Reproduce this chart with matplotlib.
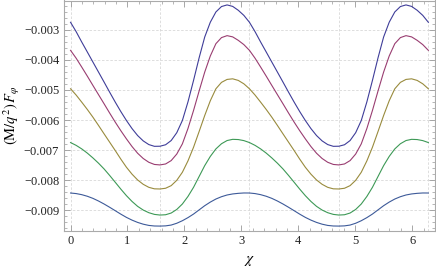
import numpy as np
import matplotlib
matplotlib.use('Agg')
import matplotlib.pyplot as plt
from matplotlib.colors import hsv_to_rgb
from matplotlib.ticker import MultipleLocator

# values, chi = k*pi/32, k = 0..64  (units of 1e-3)
chi = np.arange(65) * np.pi / 32

c1 = [-2.750, -3.061, -3.406, -3.738, -4.072, -4.405, -4.739, -5.076, -5.406, -5.722, -6.017,
      -6.286, -6.517, -6.695, -6.817, -6.875, -6.872, -6.823, -6.683, -6.422, -6.017, -5.399,
      -4.683, -3.930, -3.239, -2.747, -2.406, -2.226, -2.172, -2.221, -2.350, -2.520,
      -2.750, -3.061, -3.406, -3.738, -4.072, -4.405, -4.739, -5.076, -5.406, -5.722, -6.017,
      -6.286, -6.517, -6.695, -6.817, -6.875, -6.872, -6.823, -6.683, -6.422, -6.017, -5.399,
      -4.683, -3.930, -3.239, -2.747, -2.406, -2.226, -2.172, -2.221, -2.350, -2.520, -2.750]
c2 = [-3.683, -3.944, -4.239, -4.541, -4.850, -5.156, -5.461, -5.770, -6.072, -6.358, -6.628,
      -6.883, -7.106, -7.280, -7.406, -7.478, -7.494, -7.462, -7.350, -7.132, -6.794, -6.284,
      -5.683, -5.034, -4.406, -3.870, -3.461, -3.259, -3.194, -3.235, -3.350, -3.492,
      -3.683, -3.944, -4.239, -4.541, -4.850, -5.156, -5.461, -5.770, -6.072, -6.358, -6.628,
      -6.883, -7.106, -7.280, -7.406, -7.478, -7.494, -7.462, -7.350, -7.132, -6.794, -6.284,
      -5.683, -5.034, -4.406, -3.870, -3.461, -3.259, -3.194, -3.235, -3.350, -3.492, -3.683]
c3 = [-4.961, -5.170, -5.406, -5.649, -5.906, -6.180, -6.461, -6.739, -7.017, -7.303, -7.572,
      -7.802, -7.994, -8.139, -8.239, -8.289, -8.294, -8.270, -8.183, -8.006, -7.739, -7.361,
      -6.906, -6.382, -5.850, -5.359, -4.961, -4.748, -4.650, -4.630, -4.683, -4.796,
      -4.961, -5.170, -5.406, -5.649, -5.906, -6.180, -6.461, -6.739, -7.017, -7.303, -7.572,
      -7.802, -7.994, -8.139, -8.239, -8.289, -8.294, -8.270, -8.183, -8.006, -7.739, -7.361,
      -6.906, -6.382, -5.850, -5.359, -4.961, -4.748, -4.650, -4.630, -4.683, -4.796, -4.961]
c4 = [-6.750, -6.843, -6.961, -7.101, -7.261, -7.436, -7.628, -7.845, -8.072, -8.300, -8.517,
      -8.709, -8.872, -8.995, -9.083, -9.139, -9.161, -9.151, -9.094, -8.975, -8.794, -8.543,
      -8.239, -7.878, -7.517, -7.211, -6.961, -6.789, -6.683, -6.643, -6.650, -6.685,
      -6.750, -6.843, -6.961, -7.101, -7.261, -7.436, -7.628, -7.845, -8.072, -8.300, -8.517,
      -8.709, -8.872, -8.995, -9.083, -9.139, -9.161, -9.151, -9.094, -8.975, -8.794, -8.543,
      -8.239, -7.878, -7.517, -7.211, -6.961, -6.789, -6.683, -6.643, -6.650, -6.685, -6.750]
c5 = [-8.428, -8.447, -8.483, -8.536, -8.606, -8.694, -8.794, -8.903, -9.017, -9.132, -9.239,
      -9.330, -9.406, -9.465, -9.506, -9.525, -9.528, -9.521, -9.494, -9.434, -9.350, -9.247,
      -9.128, -8.989, -8.850, -8.730, -8.628, -8.551, -8.494, -8.459, -8.439, -8.427,
      -8.428, -8.447, -8.483, -8.536, -8.606, -8.694, -8.794, -8.903, -9.017, -9.132, -9.239,
      -9.330, -9.406, -9.465, -9.506, -9.525, -9.528, -9.521, -9.494, -9.434, -9.350, -9.247,
      -9.128, -8.989, -8.850, -8.730, -8.628, -8.551, -8.494, -8.459, -8.439, -8.427, -8.428]

curves = [c1, c2, c3, c4, c5]
hues = [0.67, 0.906068, 0.142136, 0.37820, 0.614200]   # old mathematica default hues

plt.rcParams['font.family'] = 'Liberation Serif'
plt.rcParams['mathtext.fontset'] = 'stix'

fig = plt.figure(figsize=(4.36, 2.69), dpi=100)
ax = fig.add_axes([64/436, 38.5/269, 371/436, 230/269])

for c, h in zip(curves, hues):
    ax.plot(chi, np.array(c) * 1e-3, color=hsv_to_rgb([h, 0.6, 0.6]), lw=0.8)

ax.set_xlim(-0.115, 6.40)
ax.set_ylim(-0.009675, -0.002025)

# grid at multiples of pi/2 and the y ticks
for g in np.arange(5) * np.pi / 2:
    ax.axvline(g, color='#d8d8d8', lw=0.6, ls=(0, (3, 2)), zorder=0)
for g in np.arange(-0.009, -0.0025, 0.001):
    ax.axhline(g, color='#d8d8d8', lw=0.6, ls=(0, (3, 2)), zorder=0)

ax.xaxis.set_major_locator(MultipleLocator(1))
ax.xaxis.set_minor_locator(MultipleLocator(0.2))
ax.yaxis.set_major_locator(MultipleLocator(0.001))
ax.yaxis.set_minor_locator(MultipleLocator(0.0002))
ax.yaxis.set_major_formatter(plt.FuncFormatter(lambda v, p: '\u2212%.3f' % abs(v) if v < 0 else '%.3f' % v))

ax.tick_params(which='both', direction='in', top=True, right=True, color='#999999',
               labelsize=9, labelcolor='#222222')
ax.tick_params(which='major', length=4, width=0.6)
ax.tick_params(which='minor', length=2, width=0.5)
for s in ax.spines.values():
    s.set_color('#aaaaaa')
    s.set_linewidth(0.8)

ax.set_xlabel(r'$\chi$', fontsize=11, labelpad=5)
ax.set_ylabel(r'$(\mathrm{M}/q^2)\,F_\varphi$', fontsize=10.5, labelpad=1)

fig.savefig('out.png', dpi=100)
